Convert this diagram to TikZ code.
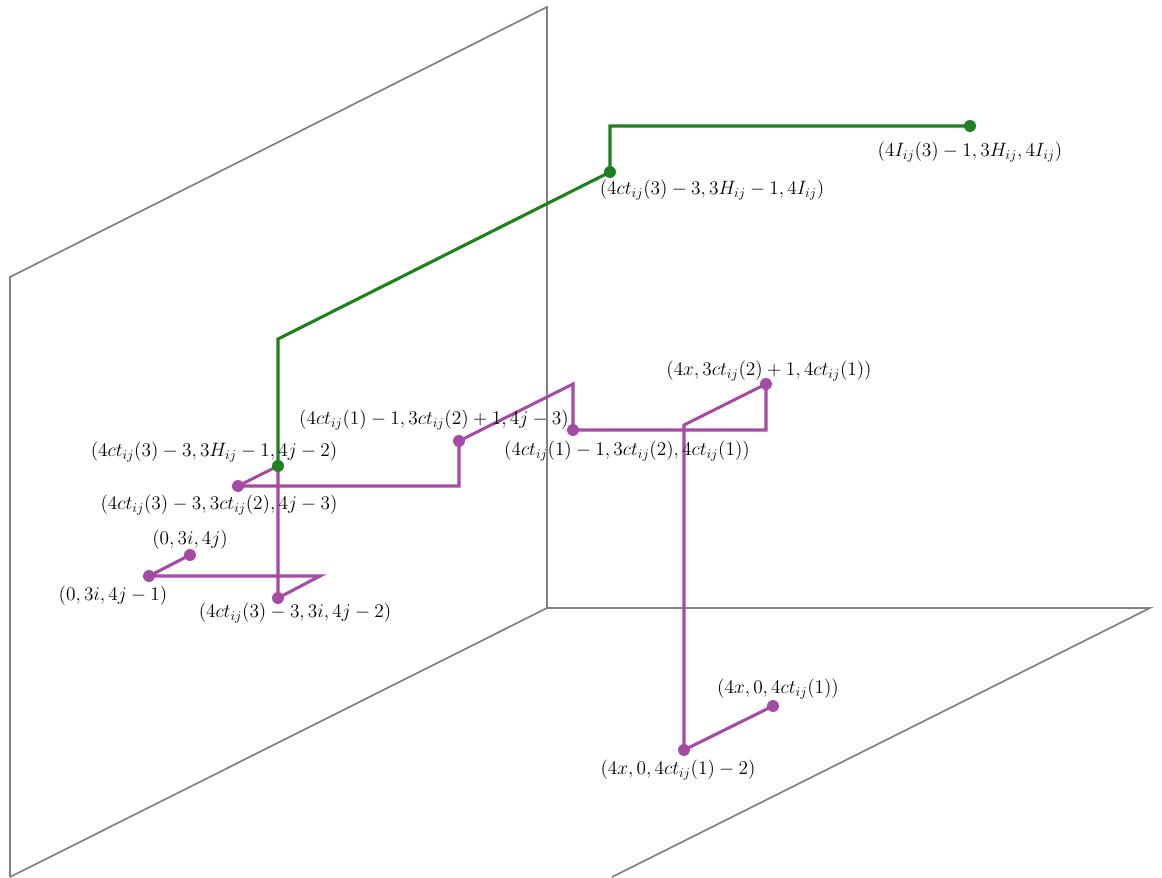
\documentclass[tikz,border=0pt]{standalone}
\usepackage{amsmath,amssymb}
\usepackage{xcolor}
\usetikzlibrary{positioning,calc}
\definecolor{pathgreen}{RGB}{30,128,30}
\definecolor{pathpurple}{RGB}{165,74,165}
\definecolor{planegray}{RGB}{128,128,128}
\tikzset{
  plane/.style={draw=planegray, line width=1.2pt},
  gpath/.style={draw=pathgreen, line width=2.2pt, line join=miter},
  ppath/.style={draw=pathpurple, line width=2.2pt, line join=miter},
  gdot/.style={circle, fill=pathgreen, inner sep=0pt, minimum size=8.5pt},
  pdot/.style={circle, fill=pathpurple, inner sep=0pt, minimum size=8.5pt},
  lbl/.style={font=\fontsize{14.4}{17}\selectfont, inner sep=0pt},
}
\begin{document}
\begin{tikzpicture}[x=0.025cm, y=-0.025cm]
  \useasboundingbox (0,0) rectangle (1162,877);
  % the two planes (wall and floor)
  \draw[plane] (10,877) -- (10,277) -- (547,7) -- (547,608) -- (10,877);
  \draw[plane] (547,608) -- (1150,608) -- (612,877);

  % purple path
  \node[pdot] (p1) at (190,555) {};
  \node[pdot] (p2) at (149,576) {};
  \coordinate (c1) at (320,576);
  \node[pdot] (p3) at (278,598) {};
  \coordinate (c2) at (278,466);
  \node[pdot] (p4) at (238,486) {};
  \coordinate (c3) at (459,486);
  \node[pdot] (p5) at (459,441) {};
  \coordinate (c4) at (573,384);
  \node[pdot] (p6) at (573,430) {};
  \coordinate (c5) at (766,430);
  \node[pdot] (p7) at (766,384) {};
  \coordinate (c6) at (684,425);
  \node[pdot] (p8) at (684,750) {};
  \node[pdot] (p9) at (773,706) {};
  \draw[ppath] (p1.center) -- (p2.center) -- (c1) -- (p3.center) -- (c2)
    -- (p4.center) -- (c3) -- (p5.center) -- (c4) -- (p6.center) -- (c5)
    -- (p7.center) -- (c6) -- (p8.center) -- (p9.center);

  % green path
  \node[gdot] (g1) at (970,126) {};
  \coordinate (d1) at (610,126);
  \node[gdot] (g2) at (610,172) {};
  \coordinate (d2) at (278,339);
  \node[gdot] (g3) at (278,466) {};
  \draw[gpath] (g1.center) -- (d1) -- (g2.center) -- (d2) -- (g3.center);

  % labels
  \foreach \x/\y/\txt in {
      970/152/{(4I_{ij}(3)-1,3H_{ij},4I_{ij})},
      712/190/{(4ct_{ij}(3)-3,3H_{ij}-1,4I_{ij})},
      214/452/{(4ct_{ij}(3)-3,3H_{ij}-1,4j-2)},
      219/505/{(4ct_{ij}(3)-3,3ct_{ij}(2),4j-3)},
      190/540/{(0,3i,4j)},
      113/596/{(0,3i,4j-1)},
      295/613/{(4ct_{ij}(3)-3,3i,4j-2)},
      434/420/{(4ct_{ij}(1)-1,3ct_{ij}(2)+1,4j-3)},
      627/451/{(4ct_{ij}(1)-1,3ct_{ij}(2),4ct_{ij}(1))},
      769/371/{(4x,3ct_{ij}(2)+1,4ct_{ij}(1))},
      778/689/{(4x,0,4ct_{ij}(1))},
      678/770/{(4x,0,4ct_{ij}(1)-2)}}{
    \node[lbl] at (\x,\y) {\scalebox{0.955}{$\txt$}};
  }
\end{tikzpicture}
\end{document}
